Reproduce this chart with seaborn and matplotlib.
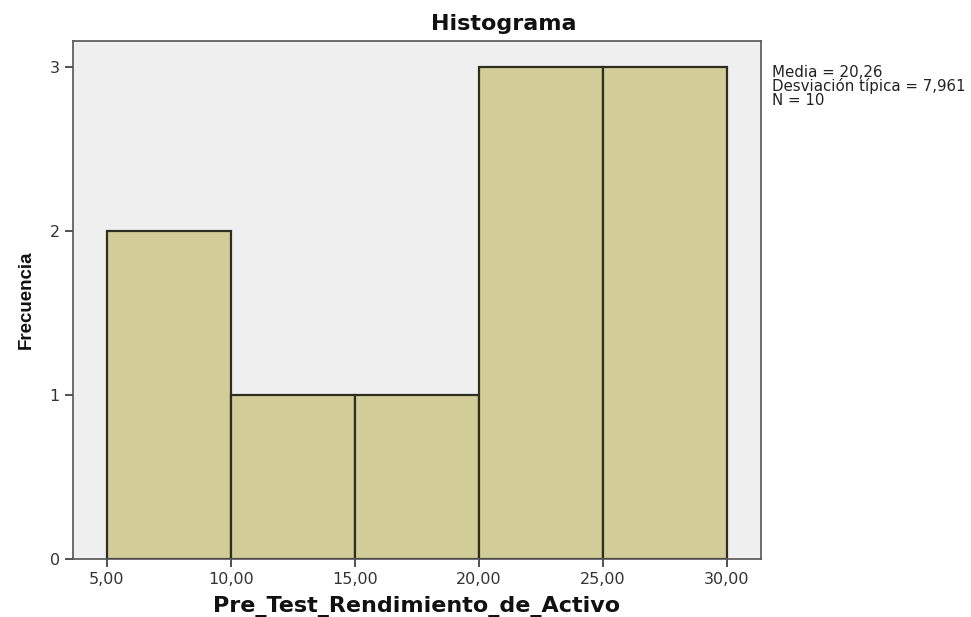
import numpy as np
import pandas as pd
import matplotlib
matplotlib.use("Agg")
import matplotlib.pyplot as plt
import seaborn as sns

# histogram data
bin_edges = [5, 10, 15, 20, 25, 30]
counts = [2, 1, 1, 3, 3]
x_ticks = [5, 10, 15, 20, 25, 30]
x_tick_labels = ["5,00", "10,00", "15,00", "20,00", "25,00", "30,00"]
y_ticks = [0, 1, 2, 3]
stats_lines = ["Media = 20,26", "Desviación típica = 7,961", "N = 10"]

centers = [(a + b) / 2 for a, b in zip(bin_edges[:-1], bin_edges[1:])]
df = pd.DataFrame({"valor": centers, "n": counts})

sns.set_style("white")
plt.rcParams['font.family'] = ['DejaVu Sans']

fig = plt.figure(figsize=(9.71, 6.17), dpi=100)
ax = fig.add_axes([0.0752, 0.094, 0.7085, 0.8395])
ax.set_facecolor("#EFEFEF")

sns.histplot(data=df, x="valor", weights="n", bins=bin_edges, ax=ax,
             color="#D2CD98", alpha=1, edgecolor="#2E2E22", linewidth=1.6)

ax.set_xlim(3.63, 31.37)
ax.set_ylim(0, 3.16)
ax.set_xticks(x_ticks)
ax.set_xticklabels(x_tick_labels)
ax.set_yticks(y_ticks)
ax.tick_params(axis="both", direction="out", length=6, width=1.2, color="#333333",
               labelsize=11.5, labelcolor="#333333", left=True, bottom=True)
for s in ax.spines.values():
    s.set_color("#555555")
    s.set_linewidth(1.2)
    s.set_visible(True)

ax.set_xlabel("Pre_Test_Rendimiento_de_Activo", fontsize=16, fontweight="bold",
              labelpad=6, color="#111111")
ax.set_ylabel("Frecuencia", fontsize=13.5, fontweight="bold", family="Liberation Sans",
              labelpad=11, color="#111111")

# SPSS puts the title a bit right of the plot centre
fig.text(504 / 971, 1 - 24 / 617, "Histograma", fontsize=16, fontweight="bold",
         ha="center", va="center", color="#111111")

fig.text(772 / 971, 1 - 65 / 617, "\n".join(stats_lines), fontsize=10.8,
         va="top", ha="left", linespacing=0.88, color="#222222")

fig.savefig("out.png", dpi=100)
